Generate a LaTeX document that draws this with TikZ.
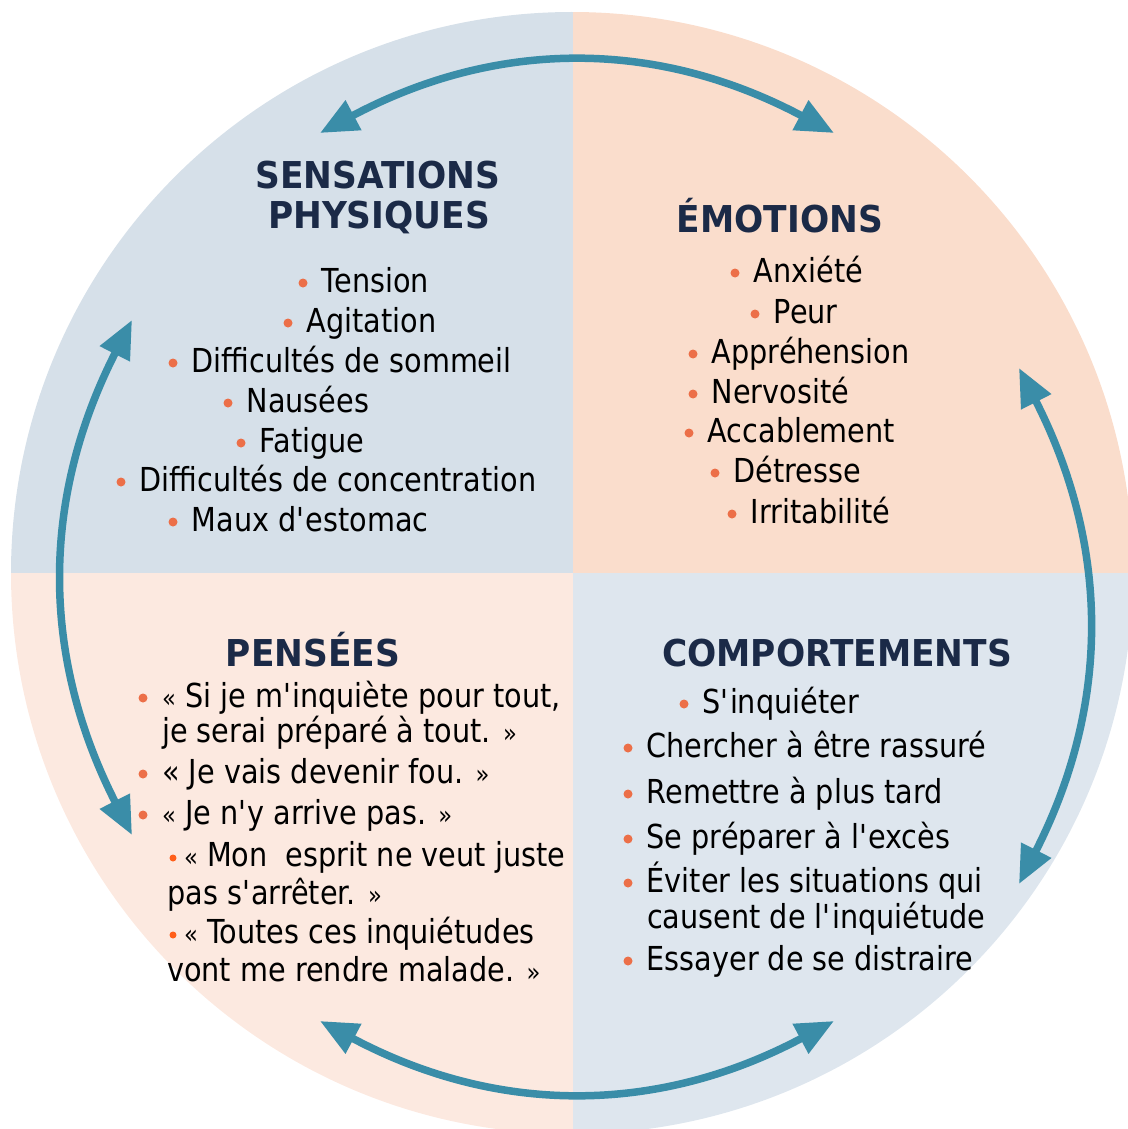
\documentclass[tikz,border=0pt]{standalone}
\usepackage{fontspec}
\setmainfont{DejaVu Sans}[FakeStretch=0.87]
\newfontfamily\titrefont{DejaVu Sans}[FakeStretch=0.93]
\usetikzlibrary{arrows.meta}

\definecolor{quadHG}{HTML}{D6E0E9}
\definecolor{quadHD}{HTML}{FADDCC}
\definecolor{quadBG}{HTML}{FCE9E0}
\definecolor{quadBD}{HTML}{DEE6EE}
\definecolor{bleufleche}{HTML}{3A8DA8}
\definecolor{marine}{HTML}{1B2A47}
\definecolor{orangepuce}{HTML}{EC6F48}
\definecolor{orangevif}{HTML}{FF5F1A}

\newcommand\gouv{{\fontsize{26}{26}\selectfont«}}
\newcommand\gfer{{\fontsize{26}{26}\selectfont»}}
\newcommand\ap{\textquotesingle}

\tikzset{
  titre/.style={font=\titrefont\fontsize{37}{40}\selectfont\bfseries, text=marine, inner sep=0pt, anchor=base},
  ligne/.style={font=\fontsize{33}{40}\selectfont, inner sep=0pt, anchor=base west},
  puce/.style={circle, fill=orangepuce, inner sep=0pt, minimum size=9pt},
  petitepuce/.style={circle, fill=orangevif, inner sep=0pt, minimum size=7pt},
  fleche/.style={line width=7.5pt, draw=bleufleche, {Triangle[length=38pt,width=32pt]}-{Triangle[length=38pt,width=32pt]}},
}

\begin{document}
\begin{tikzpicture}[x=1pt,y=-1pt]
\useasboundingbox (0,0) rectangle (1127,1129);

% fond : cercle en quatre quarts
\begin{scope}
\clip (572,573) circle[radius=561];
\fill[quadHG] (0,0) rectangle (573,573);
\fill[quadHD] (573,0) rectangle (1140,573);
\fill[quadBG] (0,573) rectangle (573,1140);
\fill[quadBD] (573,573) rectangle (1140,1140);
\end{scope}

% titres
\node[titre] (sens1) at (378,188) {SENSATIONS};
\node[titre] (sens2) at (379,228) {PHYSIQUES};
\node[titre] (emo) at (780,232) {ÉMOTIONS};
\node[titre] (pens) at (313,666) {PENSÉES};
\node[titre] (comp) at (837,666) {COMPORTEMENTS};

% sensations physiques
\foreach \bx/\by/\txt [count=\i] in {303/292/Tension, 288/332/Agitation,
  173/372/Difficultés de sommeil, 228/412/Nausées, 241/452/Fatigue,
  121/491/Difficultés de concentration, 173/531/{Maux d\ap estomac}}{
\node[puce] (sp\i) at (\bx,\by-9) {};
\node[ligne] (s\i) at (\bx+18.5,\by) {\txt};
}

% emotions
\foreach \bx/\by/\txt [count=\i] in {735/282/Anxiété, 755/323/Peur,
  693/363/Appréhension, 693/403/Nervosité, 689/442/Accablement,
  715/482/Détresse, 732/523/Irritabilité}{
\node[puce] (ep\i) at (\bx,\by-9) {};
\node[ligne] (e\i) at (\bx+18.5,\by) {\txt};
}

% comportements
\foreach \bx/\by/\txt [count=\i] in {684/713/{S\ap inquiéter},
  628/757/Chercher à être rassuré, 628/803/Remettre à plus tard,
  628/848/{Se préparer à l\ap excès}, 628/892/Éviter les situations qui,
  628/970/Essayer de se distraire}{
\node[puce] (cp\i) at (\bx,\by-9) {};
\node[ligne] (c\i) at (\bx+18.5,\by) {\txt};
}
\node[ligne] (c5b) at (647,928) {causent de l\ap inquiétude};

% pensees
\node[puce] (pp1) at (143,698) {};
\node[ligne] (p1) at (162,707) {\gouv{} Si je m\ap inquiète pour tout,};
\node[ligne] (p1b) at (162,742) {je serai préparé à tout. \gfer};
\node[puce] (pp2) at (143,774) {};
\node[ligne] (p2) at (162,783) {« Je vais devenir fou. \gfer};
\node[puce] (pp3) at (143,815) {};
\node[ligne] (p3) at (162,824) {\gouv{} Je n\ap y arrive pas. \gfer};
\node[petitepuce] (pp4) at (173,858) {};
\node[ligne] (p4) at (184,866) {\gouv{} Mon\ \ esprit ne veut juste};
\node[ligne] (p4b) at (167,904) {pas s\ap arrêter. \gfer};
\node[petitepuce] (pp5) at (173,935) {};
\node[ligne] (p5) at (184,943) {\gouv{} Toutes ces inquiétudes};
\node[ligne] (p5b) at (167,981) {vont me rendre malade. \gfer};

% fleches entre les quarts
\coordinate (hg) at (320,133);
\coordinate (hd) at (834,133);
\coordinate (gh) at (132,320);
\coordinate (gb) at (132,835);
\coordinate (dh) at (1019,368);
\coordinate (db) at (1019,884);
\coordinate (bg) at (320,1021);
\coordinate (bd) at (834,1021);
\draw[fleche] (hg) to[bend left=28] (hd);
\draw[fleche] (gb) to[bend left=27] (gh);
\draw[fleche] (dh) to[bend left=27] (db);
\draw[fleche] (bd) to[bend left=28] (bg);
\end{tikzpicture}
\end{document}
